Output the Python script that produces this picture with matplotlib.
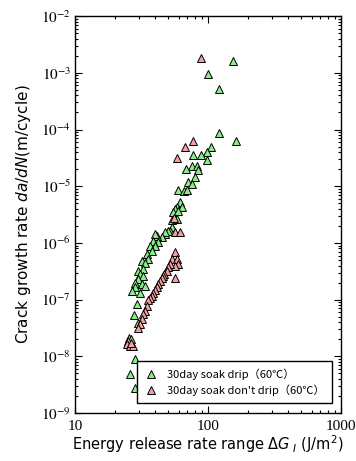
import math
import matplotlib
matplotlib.use("Agg")
import matplotlib.pyplot as plt
from matplotlib.ticker import LogLocator, FuncFormatter, NullFormatter

plt.rcParams['mathtext.fontset'] = 'stix'

# 30day soak drip (60C) - green
drip_dG = [153, 100.5, 121.6, 121.6, 162.5, 106, 98.8, 88.7, 77.6, 97.6,
           75.5, 82, 68, 84.6, 80, 71, 75.5, 59.8, 66, 70,
           61.5, 58, 56.5, 63.4, 54.9, 59.8, 53.3, 58.2, 53.3, 51.8,
           50.3, 47.5, 47.5, 44.8, 41.1, 40, 42.3, 38.8, 40, 36.6,
           37.7, 34.6, 35.6, 31.7, 33.6, 29.9, 32.6, 30.8, 32.6, 29.9,
           28.2, 31.7, 33.6, 28.2, 26.7, 30.8, 29.1, 27.7, 29.5, 25.6,
           26.2, 28.2, 25.9, 28.2]
drip_dadn = [1.6e-3, 9.4e-4, 5.2e-4, 8.7e-5, 6.4e-5, 4.9e-5, 4.0e-5, 3.5e-5, 3.6e-5, 2.9e-5,
             2.3e-5, 2.3e-5, 2.0e-5, 1.9e-5, 1.44e-5, 1.2e-5, 1.1e-5, 8.7e-6, 8.4e-6, 8.7e-6,
             5.2e-6, 4.3e-6, 4.0e-6, 4.3e-6, 3.5e-6, 3.7e-6, 2.5e-6, 2.6e-6, 1.88e-6, 1.65e-6,
             1.64e-6, 1.44e-6, 1.53e-6, 1.25e-6, 1.34e-6, 1.44e-6, 1.02e-6, 1.09e-6, 8.9e-7, 8.9e-7,
             7.3e-7, 6.4e-7, 5.2e-7, 4.85e-7, 4.5e-7, 3.2e-7, 3.46e-7, 2.8e-7, 2.6e-7, 2.3e-7,
             1.95e-7, 1.88e-7, 1.75e-7, 1.64e-7, 1.43e-7, 1.33e-7, 8.3e-8, 5.3e-8, 3.8e-8, 2.1e-8,
             2.0e-8, 8.9e-9, 4.8e-9, 2.8e-9]

# 30day soak don't drip (60C) - pink
nodrip_dG = [88.5, 77.6, 67, 58.5, 55.5, 56.5, 61.5, 56.5, 53.3, 58.2,
             59.8, 56.5, 51.8, 50.3, 56.5, 48.9, 47, 45.8, 44.8, 43.5,
             42.3, 41.1, 40, 38.8, 37.7, 36.6, 35.6, 34.6, 33.6, 32.6,
             31.7, 30.8, 29.9, 25.2, 24.5, 25.9, 27.4, 26.5]
nodrip_dadn = [1.85e-3, 6.3e-5, 4.9e-5, 3.2e-5, 2.8e-6, 1.53e-6, 1.53e-6, 6.8e-7, 5.2e-7, 5.2e-7,
               4.2e-7, 4.0e-7, 4.2e-7, 3.7e-7, 2.45e-7, 3.2e-7, 2.8e-7, 2.6e-7, 2.45e-7, 2.15e-7,
               1.88e-7, 1.64e-7, 1.45e-7, 1.33e-7, 1.17e-7, 1.08e-7, 1.0e-7, 7.8e-8, 6.3e-8, 5.5e-8,
               4.5e-8, 3.7e-8, 3.1e-8, 1.87e-8, 1.64e-8, 1.53e-8, 1.53e-8, 1.7e-8]

series_labels = ["30day soak drip（60℃）", "30day soak don't drip（60℃）"]

fig = plt.figure(figsize=(3.56, 4.61), dpi=100)
ax = fig.add_axes([0.211, 0.104, 0.747, 0.861])

ax.plot(drip_dG, drip_dadn, linestyle='none', marker='^', markersize=6,
        markerfacecolor='#86f086', markeredgecolor='black', markeredgewidth=0.7,
        label=series_labels[0], zorder=3)
ax.plot(nodrip_dG, nodrip_dadn, linestyle='none', marker='^', markersize=6,
        markerfacecolor='#f4a0a0', markeredgecolor='black', markeredgewidth=0.7,
        label=series_labels[1], zorder=3)

ax.set_xscale('log')
ax.set_yscale('log')
ax.set_xlim(10, 1000)
ax.set_ylim(1e-9, 1e-2)

ax.xaxis.set_major_locator(LogLocator(base=10, numticks=10))
ax.xaxis.set_minor_locator(LogLocator(base=10, subs=range(2, 10), numticks=20))
ax.yaxis.set_major_locator(LogLocator(base=10, numticks=12))
ax.yaxis.set_minor_locator(LogLocator(base=10, subs=range(2, 10), numticks=40))
ax.xaxis.set_major_formatter(FuncFormatter(lambda v, p: '%d' % round(v)))
ax.yaxis.set_major_formatter(FuncFormatter(lambda v, p: r'$10^{%d}$' % round(math.log10(v))))
ax.xaxis.set_minor_formatter(NullFormatter())
ax.yaxis.set_minor_formatter(NullFormatter())

ax.tick_params(which='both', direction='in', top=True, right=True, width=0.8)
ax.tick_params(which='major', length=5, labelsize=11)
ax.tick_params(which='minor', length=2.5)
ax.tick_params(axis='x', which='major', pad=5, labelfontfamily='Liberation Serif')
ax.tick_params(axis='y', which='major', pad=3)
for sp in ax.spines.values():
    sp.set_linewidth(1.0)

xl = ax.set_xlabel(r"Energy release rate range $\mathit{\Delta G_{\ I}}$ (J/m$^2$)",
                   fontsize=10.5, family='DejaVu Sans', labelpad=0)
xl.set_math_fontfamily('dejavusans')
yl = ax.set_ylabel(r"Crack growth rate $\mathit{da/dN}$(m/cycle)",
                   fontsize=11, family='DejaVu Sans', labelpad=6)
yl.set_math_fontfamily('dejavusans')

leg = ax.legend(loc='lower right', bbox_to_anchor=(0.985, 0.012), fancybox=False,
                framealpha=1, edgecolor='black', borderpad=0.6, handletextpad=0.8,
                labelspacing=0.45, handlelength=1.3,
                prop={'family': ['Noto Sans CJK JP', 'DejaVu Sans'], 'size': 8})
leg.get_frame().set_linewidth(1.0)

fig.savefig('out.png', dpi=100)
